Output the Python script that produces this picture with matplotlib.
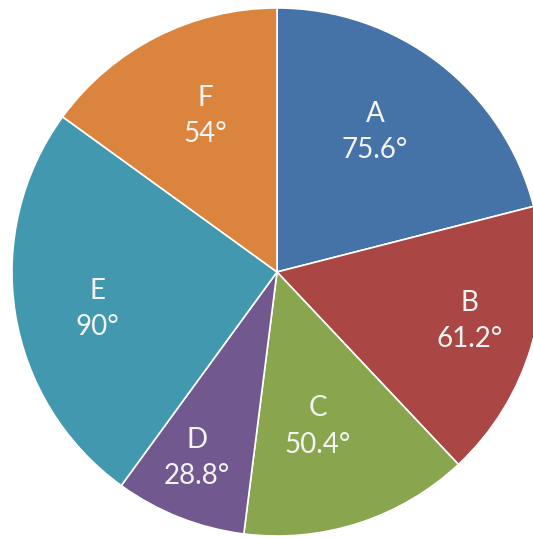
import matplotlib.pyplot as plt

labels = ['A', 'B', 'C', 'D', 'E', 'F']
degrees = [75.6, 61.2, 50.4, 28.8, 90, 54]
colors = ['#4572A7', '#AA4643', '#89A54E', '#71588F', '#4198AF', '#DB843D']

# label spots (in pie radius units), Excel pushed some of them around
label_pos = [(0.37, 0.53), (0.728, -0.185), (0.155, -0.585),
             (-0.302, -0.705), (-0.679, -0.14), (-0.272, 0.59)]

fig = plt.figure(figsize=(5.33, 5.38), dpi=100)
ax = fig.add_axes([0, 0, 1, 1])

wedges, _ = ax.pie(degrees, colors=colors, startangle=90, counterclock=False,
                   radius=1.0, wedgeprops=dict(edgecolor='white', linewidth=1.2))

for lab, val, (x, y) in zip(labels, degrees, label_pos):
    ax.text(x, y, f'{lab}\n{val:g}°', ha='center', va='center', color='#f4f4f4',
            fontsize=20, family='Lato', linespacing=1.5)

ax.set_xlim(-277 / 265, 256 / 265)
ax.set_ylim(-267 / 265, 273 / 265)
ax.set_aspect('auto')
ax.axis('off')

fig.savefig('out.png', dpi=100)
